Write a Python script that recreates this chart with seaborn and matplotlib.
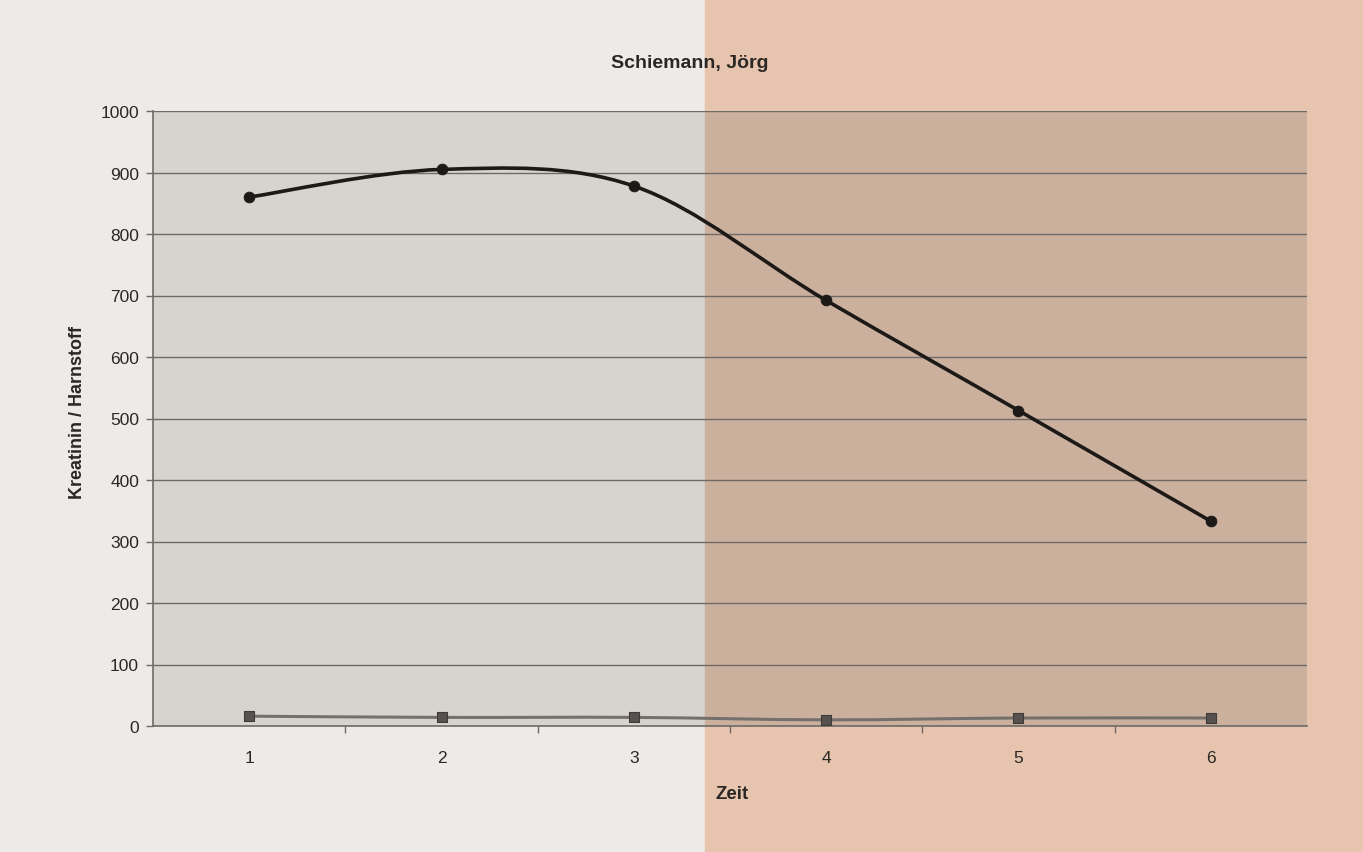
import numpy as np
import pandas as pd
import matplotlib.pyplot as plt
import seaborn as sns
from matplotlib.path import Path
from matplotlib.patches import PathPatch, Rectangle

# Werte
zeit = [1, 2, 3, 4, 5, 6]
kreatinin = [860, 905, 878, 692, 513, 333]
harnstoff = [16, 14, 14, 10, 13, 13]
y_ticks = list(range(0, 1001, 100))

df = pd.DataFrame({"Zeit": zeit, "Kreatinin": kreatinin, "Harnstoff": harnstoff})


def smooth_path(xs, ys):
    # geglättete Linie wie in Excel (Bezier durch die Datenpunkte)
    pts = np.column_stack([xs, ys]).astype(float)
    ext = np.vstack([pts[0], pts, pts[-1]])
    verts = [pts[0]]
    codes = [Path.MOVETO]
    for i in range(len(pts) - 1):
        p0, p1, p2, p3 = ext[i], ext[i + 1], ext[i + 2], ext[i + 3]
        verts += [p1 + (p2 - p0) / 6, p2 - (p3 - p1) / 6, p2]
        codes += [Path.CURVE4] * 3
    return Path(verts, codes)


sns.set_style("white")
plt.rcParams['font.family'] = ['Liberation Sans', 'DejaVu Sans']

fig = plt.figure(figsize=(13.63, 8.53), dpi=100)
fold = 0.517
fig.patches.append(Rectangle((0, 0), fold, 1, transform=fig.transFigure,
                             color='#ecebe7', zorder=-10))
fig.patches.append(Rectangle((fold, 0), 1 - fold, 1, transform=fig.transFigure,
                             color='#e6c4ae', zorder=-10))

ax = fig.add_axes([153 / 1363, 1 - 727 / 853, (1307 - 153) / 1363, (727 - 112) / 853])
ax.set_facecolor('none')
afold = (705 - 153) / (1307 - 153)
ax.add_patch(Rectangle((0, 0), afold, 1, transform=ax.transAxes,
                       color='#d7d4cf', zorder=0.1))
ax.add_patch(Rectangle((afold, 0), 1 - afold, 1, transform=ax.transAxes,
                       color='#cbb09e', zorder=0.1))

# Linien
ax.add_patch(PathPatch(smooth_path(df["Zeit"], df["Harnstoff"]), fill=False,
                       edgecolor='#76706c', lw=2.2, zorder=2))
ax.add_patch(PathPatch(smooth_path(df["Zeit"], df["Kreatinin"]), fill=False,
                       edgecolor='#1c1917', lw=2.6, zorder=3))

# Marker
sns.scatterplot(data=df, x="Zeit", y="Harnstoff", marker='s', s=60,
                color='#575250', edgecolor='#3f3b39', linewidth=0.8, ax=ax, zorder=4)
sns.scatterplot(data=df, x="Zeit", y="Kreatinin", marker='o', s=60,
                color='#1c1917', edgecolor='#1c1917', ax=ax, zorder=5)

ax.set_xlim(0.5, 6.5)
ax.set_ylim(0, 1000)
ax.set_yticks(y_ticks)
ax.set_xticks(zeit)
ax.set_xticks([z + 0.5 for z in zeit[:-1]], minor=True)
ax.set_axisbelow(True)
ax.yaxis.grid(True, color='#6f6a66', lw=1.0, zorder=0.5)

ax.tick_params(axis='y', which='major', direction='out', length=5, width=1,
               color='#6f6a66', labelsize=12.5, labelcolor='#2a2725', pad=5, left=True)
ax.tick_params(axis='x', which='major', length=0, labelsize=12.5,
               labelcolor='#2a2725', pad=17)
ax.tick_params(axis='x', which='minor', direction='out', length=5, width=1,
               color='#6f6a66', bottom=True)

for s in ['top', 'right']:
    ax.spines[s].set_visible(False)
for s in ['left', 'bottom']:
    ax.spines[s].set_color('#6f6a66')
    ax.spines[s].set_linewidth(1.2)

ax.set_xlabel("Zeit", fontsize=13.5, fontweight='bold', color='#2a2725')
ax.set_ylabel("Kreatinin / Harnstoff", fontsize=13, fontweight='bold', color='#2a2725')
ax.xaxis.set_label_coords(0.502, -0.096)
ax.yaxis.set_label_coords(-0.058, 0.512)

fig.text(690 / 1363, 1 - 63 / 853, "Schiemann, Jörg", ha='center', va='center',
         fontsize=14, fontweight='bold', color='#2a2725')

fig.savefig("out.png", dpi=100)
